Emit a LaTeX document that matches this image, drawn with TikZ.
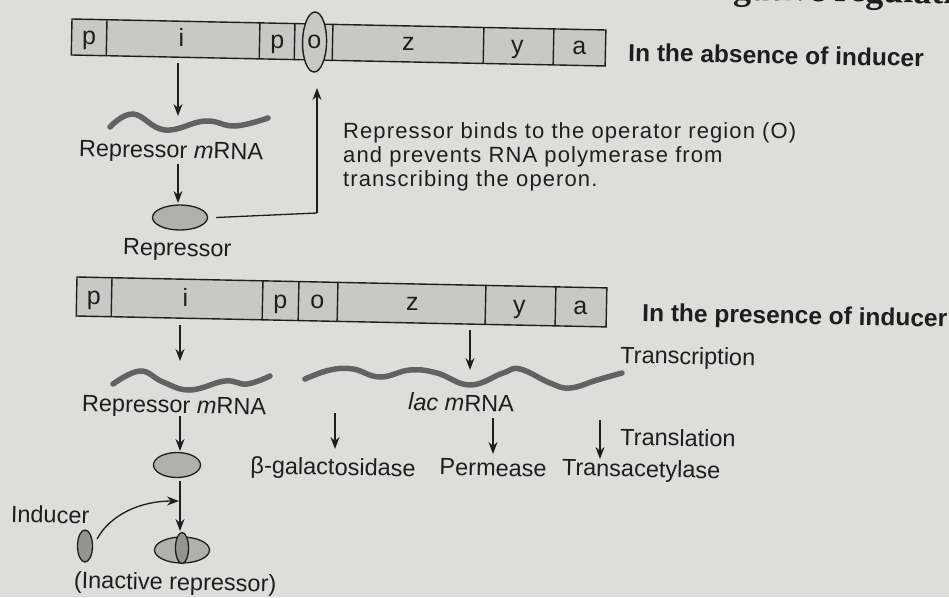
\documentclass[tikz,border=0pt]{standalone}
\usepackage{fontspec}
\setmainfont{Liberation Sans}
\newfontfamily\headserif{Liberation Serif}
\usetikzlibrary{arrows.meta,shapes.geometric}

\definecolor{bg}{RGB}{221,221,219}
\definecolor{ink}{RGB}{30,30,30}
\definecolor{barfill}{RGB}{200,200,198}
\definecolor{wavec}{RGB}{98,98,98}
\definecolor{protfill}{RGB}{176,176,174}
\definecolor{indfill}{RGB}{148,148,146}

\tikzset{
  lbl/.style={text=ink, font=\fontsize{23.5}{24}\selectfont, inner sep=0pt, rotate=-1.1, anchor=base},
  desc/.style={text=ink, font=\fontsize{22}{24}\selectfont\addfontfeature{LetterSpace=5}, inner sep=0pt, anchor=north west, align=left},
  hdr/.style={text=ink, font=\fontsize{24.5}{25}\selectfont\bfseries, inner sep=0pt, rotate=-1.1, anchor=base west},
  gene/.style={text=ink, font=\fontsize{25}{25}\selectfont, inner sep=0pt, anchor=base},
  arr/.style={draw=ink, line width=1.3pt, -{Stealth[length=12pt,width=9pt]}},
  conn/.style={draw=ink, line width=1.3pt},
  barline/.style={draw=ink, line width=1.4pt},
  wave/.style={draw=wavec, line width=5.5pt, line cap=round},
  prot/.style={ellipse, draw=ink, line width=1.3pt, fill=protfill, inner sep=0pt},
  indc/.style={ellipse, draw=ink, line width=1.3pt, fill=indfill, inner sep=0pt},
  oval/.style={ellipse, draw=ink, line width=1.4pt, fill=barfill, inner sep=0pt, rotate=-1.1}
}

\begin{document}
\begin{tikzpicture}[x=1pt,y=-1pt]
\fill[bg] (0,0) rectangle (949,597);
\useasboundingbox (0,0) rectangle (949,597);

% heading of the page, cut by the top edge
\begin{scope}
\clip (0,0) rectangle (949,597);
\node[text=ink, font=\headserif\bfseries\fontsize{36}{36}\selectfont, inner sep=0pt, anchor=base west, rotate=-1.1] (head) at (697,-1) {negative regulation};
\end{scope}

% ---------- top DNA bar (absence of inducer)
\begin{scope}[shift={(72,19)}, rotate=-1.18]
  \draw[barline, fill=barfill] (0,0) rectangle (534,36);
  \foreach \d in {35,188,223,261,412,482} \draw[barline] (\d,0) -- (\d,36);
  \node[gene] (tp1) at (17.5,25) {p};
  \node[gene] (ti) at (110,25) {i};
  \node[gene] (tp2) at (206,25) {p};
  \node[oval, minimum width=24pt, minimum height=60pt] (top-o) at (243,18) {};
  \node[gene] (to) at (243,25) {o};
  \node[gene] (tz) at (337,25) {z};
  \node[gene] (ty) at (446,25) {y};
  \node[gene] (ta) at (508,25) {a};
\end{scope}
\node[hdr] (absence) at (628,61) {In the absence of inducer};

% repressor synthesis (top)
\coordinate (t-a1s) at (178,63);
\coordinate (t-a1e) at (178,116);
\draw[arr] (t-a1s) -- (t-a1e);
\draw[wave] plot[smooth, tension=0.7] coordinates {(110,127) (133,114) (165,130) (205,121) (235,126) (268,118)};
\node[lbl] (t-rmrna) at (171,158) {Repressor \textit{m}RNA};
\coordinate (t-a2s) at (178,164);
\coordinate (t-a2e) at (178,203);
\draw[arr] (t-a2s) -- (t-a2e);
\node[prot, minimum width=55pt, minimum height=25pt] (t-rep) at (180,217.5) {};
\node[lbl] (t-replbl) at (177,256) {Repressor};
\coordinate (t-corner) at (317,213);
\coordinate (t-up) at (317,88);
\draw[conn] ([xshift=8pt]t-rep.east) -- (t-corner);
\draw[arr] (t-corner) -- (t-up);

\node[desc] (desc) at (343,122) {Repressor binds to the operator region (O)\\and prevents RNA polymerase from\\transcribing the operon.};

% ---------- bottom DNA bar (presence of inducer)
\begin{scope}[shift={(77,277)}, rotate=-1.18]
  \draw[barline, fill=barfill] (0,0) rectangle (530,39);
  \foreach \d in {35,186,222,261,409,479} \draw[barline] (\d,0) -- (\d,39);
  \node[gene] (bp1) at (17.5,27) {p};
  \node[gene] (bi) at (109,27) {i};
  \node[gene] (bp2) at (204,27) {p};
  \node[gene] (bo) at (241,27) {o};
  \node[gene] (bz) at (336,27) {z};
  \node[gene] (by) at (443,27) {y};
  \node[gene] (ba) at (504,27) {a};
\end{scope}
\node[hdr] (presence) at (642,321) {In the presence of inducer};

% repressor branch
\coordinate (b-a1s) at (180,325);
\coordinate (b-a1e) at (180,361);
\draw[arr] (b-a1s) -- (b-a1e);
\draw[wave] plot[smooth, tension=0.7] coordinates {(113,384) (140,371) (163,382) (190,390) (225,381) (247,384) (270,376)};
\node[lbl] (b-rmrna) at (174,413) {Repressor \textit{m}RNA};
\coordinate (b-a2s) at (180,416);
\coordinate (b-a2e) at (180,451);
\draw[arr] (b-a2s) -- (b-a2e);
\node[prot, minimum width=47pt, minimum height=25pt] (b-rep) at (177,465) {};
\coordinate (b-a3s) at (180,481);
\coordinate (b-a3e) at (180,531);
\draw[arr] (b-a3s) -- (b-a3e);

\node[lbl] (inducer-lbl) at (50,523) {Inducer};
\node[indc, minimum width=15pt, minimum height=32pt] (ind) at (85,546) {};
\coordinate (ind-s) at (97,539);
\coordinate (ind-e) at (179,501);
\draw[arr] (ind-s) .. controls (110,515) and (140,501) .. (ind-e);

\node[prot, minimum width=55pt, minimum height=26pt] (inact) at (182,550) {};
\node[indc, minimum width=13pt, minimum height=31pt] (inact-ind) at (182,548) {};
\node[lbl] (inact-lbl) at (175,590) {(Inactive repressor)};

% lac operon transcription / translation
\coordinate (lac-s) at (470,330);
\coordinate (lac-e) at (470,370);
\draw[arr] (lac-s) -- (lac-e);
\node[lbl, anchor=base west] (transcr) at (620,363) {Transcription};
\draw[wave] plot[smooth, tension=0.7] coordinates {(305,379) (330,370) (353,369) (380,377) (410,370) (437,373) (470,385) (503,373) (520,369) (550,383) (570,388) (597,380) (622,373)};
\node[lbl] (lacmrna) at (461,411) {\textit{lac m}RNA};

\coordinate (g1s) at (335,413);
\coordinate (g1e) at (335,449);
\draw[arr] (g1s) -- (g1e);
\coordinate (g2s) at (493,418);
\coordinate (g2e) at (493,454);
\draw[arr] (g2s) -- (g2e);
\coordinate (g3s) at (600,420);
\coordinate (g3e) at (600,459);
\draw[arr] (g3s) -- (g3e);
\node[lbl, anchor=base west] (transl) at (620,445) {Translation};

\node[lbl] (bgal) at (333,475) {β-galactosidase};
\node[lbl] (perm) at (493,476) {Permease};
\node[lbl] (trans) at (641,477) {Transacetylase};
\end{tikzpicture}
\end{document}
